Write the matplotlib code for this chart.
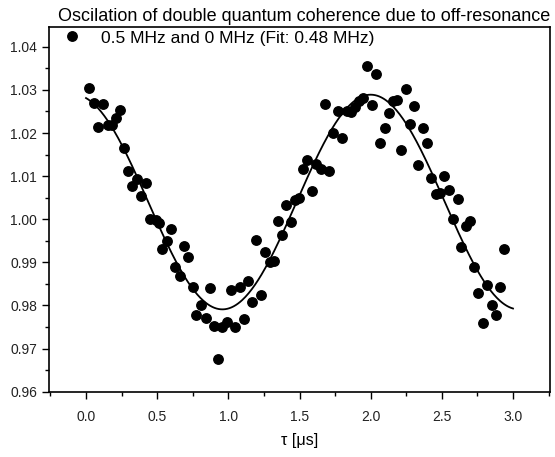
import numpy as np
import matplotlib
matplotlib.use("Agg")
import matplotlib.pyplot as plt
from matplotlib.ticker import MultipleLocator, FormatStrFormatter

plt.rcParams['font.family'] = ['Liberation Sans', 'DejaVu Sans']

title = "Oscilation of double quantum coherence due to off-resonance"
series_label = "0.5 MHz and 0 MHz (Fit: 0.48 MHz)"
x_label = "\u03c4 [\u03bcs]"

tau_us = [0.023, 0.058, 0.087, 0.120, 0.153, 0.181, 0.209, 0.237, 0.270, 0.294,
          0.326, 0.357, 0.387, 0.420, 0.451, 0.493, 0.516, 0.537, 0.568, 0.599,
          0.627, 0.657, 0.687, 0.718, 0.749, 0.775, 0.806, 0.840, 0.868, 0.896,
          0.930, 0.958, 0.991, 1.018, 1.049, 1.079, 1.108, 1.137, 1.165, 1.197,
          1.227, 1.257, 1.290, 1.319, 1.347, 1.378, 1.407, 1.439, 1.469, 1.497,
          1.525, 1.556, 1.589, 1.618, 1.648, 1.676, 1.708, 1.736, 1.770, 1.796,
          1.831, 1.859, 1.887, 1.918, 1.949, 1.977, 2.007, 2.040, 2.065, 2.099,
          2.129, 2.160, 2.188, 2.216, 2.246, 2.277, 2.305, 2.336, 2.366, 2.394,
          2.427, 2.458, 2.488, 2.516, 2.547, 2.577, 2.611, 2.634, 2.669, 2.697,
          2.728, 2.756, 2.787, 2.817, 2.850, 2.880, 2.908, 2.939]
signal = [1.0304, 1.0270, 1.0213, 1.0267, 1.0218, 1.0218, 1.0236, 1.0253, 1.0165, 1.0112,
          1.0077, 1.0094, 1.0055, 1.0083, 1.0000, 0.9998, 0.9992, 0.9932, 0.9950, 0.9977,
          0.9890, 0.9869, 0.9937, 0.9912, 0.9844, 0.9777, 0.9801, 0.9772, 0.9840, 0.9752,
          0.9675, 0.9750, 0.9762, 0.9837, 0.9749, 0.9843, 0.9769, 0.9857, 0.9808, 0.9952,
          0.9824, 0.9925, 0.9901, 0.9904, 0.9996, 0.9963, 1.0033, 0.9993, 1.0044, 1.0049,
          1.0116, 1.0137, 1.0066, 1.0129, 1.0117, 1.0267, 1.0111, 1.0200, 1.0252, 1.0188,
          1.0251, 1.0249, 1.0260, 1.0275, 1.0282, 1.0355, 1.0266, 1.0336, 1.0176, 1.0212,
          1.0247, 1.0274, 1.0276, 1.0161, 1.0302, 1.0222, 1.0263, 1.0125, 1.0212, 1.0178,
          1.0095, 1.0058, 1.0060, 1.0100, 1.0069, 1.0000, 1.0047, 0.9936, 0.9984, 0.9997,
          0.9889, 0.9828, 0.9759, 0.9847, 0.9801, 0.9778, 0.9842, 0.9930]

# Fitted cosine model (parameters)
fit_freq_mhz = 0.48
fit_offset = 1.0040
fit_amplitude = 0.0249
fit_peak_us = 2.0
fit_range_us = (0.0, 3.0)

fig = plt.figure(figsize=(5.55, 4.57), dpi=100)
ax = fig.add_axes([49/555, 1 - 391.7/457, (550 - 49)/555, (391.7 - 27)/457])

t_fit = np.linspace(fit_range_us[0], fit_range_us[1], 400)
y_fit = fit_offset + fit_amplitude * np.cos(2 * np.pi * fit_freq_mhz * (t_fit - fit_peak_us))
ax.plot(t_fit, y_fit, color='black', lw=1.3, zorder=2)

ax.plot(tau_us, signal, linestyle='none', marker='o', markersize=6.8,
        color='black', label=series_label, zorder=3)

ax.set_xlim(-0.26, 3.26)
ax.set_ylim(0.96, 1.0446)
ax.xaxis.set_major_locator(MultipleLocator(0.5))
ax.xaxis.set_minor_locator(MultipleLocator(0.25))
ax.yaxis.set_major_locator(MultipleLocator(0.01))
ax.yaxis.set_minor_locator(MultipleLocator(0.005))
ax.xaxis.set_major_formatter(FormatStrFormatter('%.1f'))
ax.yaxis.set_major_formatter(FormatStrFormatter('%.2f'))
ax.tick_params(which='major', direction='out', length=5, width=1, labelsize=10,
               colors='black', labelcolor='#222222')
ax.tick_params(which='minor', direction='out', length=3, width=1)
ax.tick_params(axis='x', pad=8)
for s in ax.spines.values():
    s.set_linewidth(1.2)

ax.set_xlabel(x_label, fontsize=11.5, labelpad=7)
fig.text(304.5/555, 1 - 21/457, title, fontsize=13, ha='center', va='baseline')
leg = ax.legend(loc='upper left', frameon=False, fontsize=12.5, handletextpad=0.7,
                borderaxespad=0.0, bbox_to_anchor=(0.0, 1.005), borderpad=0.3)

fig.savefig('out.png', dpi=100)
